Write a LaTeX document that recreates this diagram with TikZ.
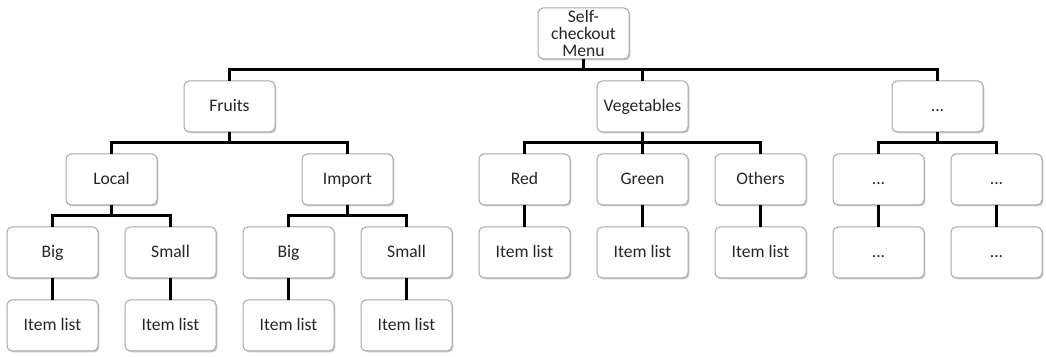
\documentclass[tikz,border=0pt]{standalone}
\usepackage{fontspec}
\setmainfont{Carlito}
\usepackage{xcolor}
\usepackage{tikz}
\usetikzlibrary{shapes}
\usetikzlibrary{shadows}
\usetikzlibrary{calc}
\usetikzlibrary{positioning}
\definecolor{tikz-border}{HTML}{A6A6A6}
\definecolor{tikz-text}{HTML}{262626}
\tikzset{node distance=11pt and 13.5pt, every text node part/.style={align=center, font={\fontsize{8.8}{8.4}\selectfont}}}
\tikzstyle{menu-box} = [rectangle, rounded corners=2.5pt, draw=tikz-border, line width=0.5pt, fill=white, text=tikz-text, minimum width=45.5pt, minimum height=25.5pt, inner sep=1pt, outer sep=0pt, text height=6.3pt, text depth=0.9pt, drop shadow={shadow xshift=0.7pt, shadow yshift=-0.7pt, fill=black!45, opacity=0.45}]
\tikzstyle{tree-line} = [draw=black, line width=1.5pt]

\begin{document}
\begin{tikzpicture}
      \useasboundingbox (0,0) rectangle (523pt,-178.5pt);
      \node[menu-box]        (local-big) at (26.25pt,-126.25pt)        {Big};
      \node[menu-box]        (local-small)[right=of local-big]         {Small};
      \node[menu-box]        (import-big)[right=of local-small]        {Big};
      \node[menu-box]        (import-small)[right=of import-big]       {Small};
      \node[menu-box]        (red-items)[right=of import-small]        {Item list};
      \node[menu-box]        (green-items)[right=of red-items]         {Item list};
      \node[menu-box]        (others-items)[right=of green-items]      {Item list};
      \node[menu-box]        (more-a-sub)[right=of others-items]       {...};
      \node[menu-box]        (more-b-sub)[right=of more-a-sub]         {...};
      \node[menu-box]        (local-big-items)[below=of local-big]     {Item list};
      \node[menu-box]        (local-small-items)[below=of local-small] {Item list};
      \node[menu-box]        (import-big-items)[below=of import-big]   {Item list};
      \node[menu-box]        (import-small-items)[below=of import-small] {Item list};
      \node[menu-box]        (local)[above=of $(local-big.north)!0.5!(local-small.north)$]   {Local};
      \node[menu-box]        (import)[above=of $(import-big.north)!0.5!(import-small.north)$] {Import};
      \node[menu-box]        (red)[above=of red-items]                 {Red};
      \node[menu-box]        (green)[above=of green-items]             {Green};
      \node[menu-box]        (others)[above=of others-items]           {Others};
      \node[menu-box]        (more-a)[above=of more-a-sub]             {...};
      \node[menu-box]        (more-b)[above=of more-b-sub]             {...};
      \node[menu-box]        (fruits)[above=of $(local.north)!0.5!(import.north)$]  {Fruits};
      \node[menu-box]        (veg)[above=of green]                     {Vegetables};
      \node[menu-box]        (more)[above=of $(more-a.north)!0.5!(more-b.north)$]   {...};
      \node[menu-box, text height=, text depth=] (menu)[above=of $(fruits.north)!0.5!(more.north)$] {Self-\\checkout\\Menu};
      \draw[tree-line]       (menu.south) -- ++(0,-5.5pt) -| (fruits.north);
      \draw[tree-line]       (menu.south) -- ++(0,-5.5pt) -| (veg.north);
      \draw[tree-line]       (menu.south) -- ++(0,-5.5pt) -| (more.north);
      \draw[tree-line]       (fruits.south) -- ++(0,-5.5pt) -| (local.north);
      \draw[tree-line]       (fruits.south) -- ++(0,-5.5pt) -| (import.north);
      \draw[tree-line]       (veg.south) -- ++(0,-5.5pt) -| (red.north);
      \draw[tree-line]       (veg.south) -- ++(0,-5.5pt) -| (green.north);
      \draw[tree-line]       (veg.south) -- ++(0,-5.5pt) -| (others.north);
      \draw[tree-line]       (more.south) -- ++(0,-5.5pt) -| (more-a.north);
      \draw[tree-line]       (more.south) -- ++(0,-5.5pt) -| (more-b.north);
      \draw[tree-line]       (local.south) -- ++(0,-5.5pt) -| (local-big.north);
      \draw[tree-line]       (local.south) -- ++(0,-5.5pt) -| (local-small.north);
      \draw[tree-line]       (import.south) -- ++(0,-5.5pt) -| (import-big.north);
      \draw[tree-line]       (import.south) -- ++(0,-5.5pt) -| (import-small.north);
      \draw[tree-line]       (red.south) -- (red-items.north);
      \draw[tree-line]       (green.south) -- (green-items.north);
      \draw[tree-line]       (others.south) -- (others-items.north);
      \draw[tree-line]       (more-a.south) -- (more-a-sub.north);
      \draw[tree-line]       (more-b.south) -- (more-b-sub.north);
      \draw[tree-line]       (local-big.south) -- (local-big-items.north);
      \draw[tree-line]       (local-small.south) -- (local-small-items.north);
      \draw[tree-line]       (import-big.south) -- (import-big-items.north);
      \draw[tree-line]       (import-small.south) -- (import-small-items.north);
    \end{tikzpicture}
\end{document}
